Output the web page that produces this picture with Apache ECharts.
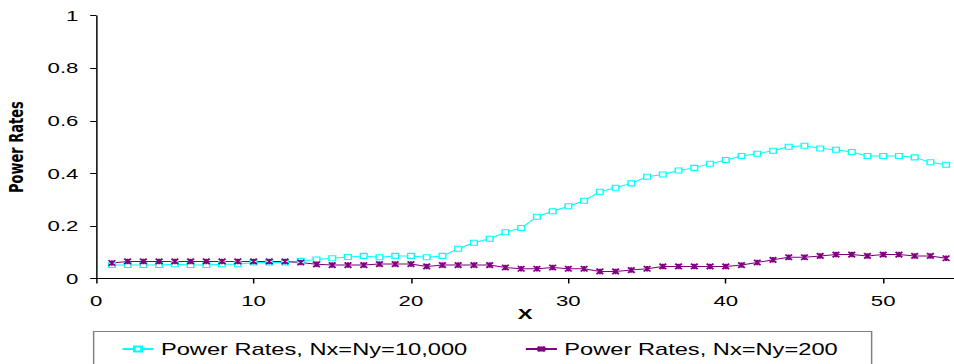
<!DOCTYPE html>
<html>
<head>
<meta charset="utf-8">
<script src="https://cdn.jsdelivr.net/npm/echarts@6/dist/echarts.min.js"></script>
<style>
  html, body { margin: 0; padding: 0; background: #fff; overflow: hidden; }
  /* the reference looks stretched sideways, so draw narrow and stretch */
  #chart { width: 645px; height: 364px; transform: scaleX(1.4791); transform-origin: 0 0; }
</style>
</head>
<body>
<div id="chart"></div>
<script>
var xValues = [1, 2, 3, 4, 5, 6, 7, 8, 9, 10, 11, 12, 13, 14, 15, 16, 17, 18,
  19, 20, 21, 22, 23, 24, 25, 26, 27, 28, 29, 30, 31, 32, 33, 34, 35, 36,
  37, 38, 39, 40, 41, 42, 43, 44, 45, 46, 47, 48, 49, 50, 51, 52, 53, 54];

var rates10000 = [0.051, 0.051, 0.051, 0.051, 0.054, 0.051, 0.051, 0.054, 0.054, 0.061,
  0.061, 0.061, 0.067, 0.072, 0.077, 0.082, 0.086, 0.081, 0.086, 0.086,
  0.081, 0.086, 0.113, 0.136, 0.151, 0.176, 0.192, 0.235, 0.256, 0.275,
  0.296, 0.330, 0.345, 0.362, 0.387, 0.396, 0.411, 0.421, 0.437, 0.451,
  0.466, 0.475, 0.486, 0.501, 0.505, 0.495, 0.490, 0.481, 0.466, 0.466,
  0.466, 0.461, 0.442, 0.433];

var rates200 = [0.059, 0.065, 0.065, 0.065, 0.065, 0.065, 0.065, 0.065, 0.065, 0.065,
  0.065, 0.065, 0.061, 0.054, 0.051, 0.051, 0.051, 0.055, 0.055, 0.055,
  0.046, 0.051, 0.051, 0.051, 0.051, 0.042, 0.037, 0.037, 0.042, 0.037,
  0.037, 0.027, 0.027, 0.032, 0.037, 0.046, 0.046, 0.046, 0.046, 0.046,
  0.051, 0.061, 0.071, 0.081, 0.081, 0.086, 0.091, 0.091, 0.086, 0.091,
  0.091, 0.086, 0.086, 0.077];

var xTicks = [0, 10, 20, 30, 40, 50];
var seriesNames = ["Power Rates, Nx=Ny=10,000", "Power Rates, Nx=Ny=200"];

function pairs(ys) {
  return xValues.map(function (x, i) { return [x, ys[i]]; });
}

var font = "Liberation Sans, Arial, sans-serif";
var star = "path://M0,0 L10,10 M10,0 L0,10 M5,0 L5,10";

var myChart = echarts.init(document.getElementById("chart"), null, { renderer: "svg" });

var option = {
  animation: false,
  backgroundColor: "#fff",
  textStyle: { fontFamily: font, color: "#000" },
  grid: { left: 65, right: 0, top: 15.7, bottom: 85.5, containLabel: false, outerBoundsMode: "none" },
  // legend frame, runs off the bottom like in the reference
  graphic: [{
    type: "rect",
    left: 60.8,
    top: 329,
    shape: { width: 526, height: 60 },
    style: { fill: "none", stroke: "#808080", lineWidth: 1 },
    silent: true
  }],
  legend: {
    left: 81.8,
    top: 341,
    padding: 0,
    itemGap: 38.5,
    itemWidth: 21,
    itemHeight: 6,
    textStyle: { fontFamily: font, fontSize: 16, color: "#000" },
    data: seriesNames
  },
  xAxis: {
    type: "value",
    min: 0,
    max: 54.5,
    interval: 10,
    name: "X",
    nameLocation: "middle",
    nameGap: 28,
    nameMoveOverlap: false,
    nameTextStyle: { fontFamily: font, fontSize: 15, fontWeight: "bold", color: "#000" },
    axisLine: { show: true, lineStyle: { color: "#000", width: 1 } },
    axisTick: { show: true, length: 5, customValues: xTicks, lineStyle: { color: "#000" } },
    axisLabel: { customValues: xTicks, margin: 15, fontSize: 15, color: "#000", fontFamily: font },
    splitLine: { show: false }
  },
  yAxis: {
    type: "value",
    min: 0,
    max: 1,
    interval: 0.2,
    name: "Power Rates",
    nameLocation: "middle",
    nameGap: 47,
    nameMoveOverlap: false,
    nameTextStyle: { fontFamily: "DejaVu Sans", fontSize: 13, fontWeight: "bold", color: "#000" },
    axisLine: { show: true, lineStyle: { color: "#000", width: 1 } },
    axisTick: { show: true, length: 4, lineStyle: { color: "#000" } },
    axisLabel: { margin: 12, fontSize: 15, color: "#000", fontFamily: font },
    splitLine: { show: false }
  },
  series: [
    {
      name: seriesNames[0],
      type: "line",
      data: pairs(rates10000),
      symbol: "rect",
      symbolSize: [4.5, 5],
      showAllSymbol: true,
      lineStyle: { color: "#00FFFF", width: 1 },
      itemStyle: { color: "#fff", borderColor: "#00FFFF", borderWidth: 1 }
    },
    {
      name: seriesNames[1],
      type: "line",
      data: pairs(rates200),
      symbol: star,
      symbolSize: [4.5, 5.5],
      showAllSymbol: true,
      lineStyle: { color: "#800080", width: 1 },
      itemStyle: { color: "transparent", borderColor: "#800080", borderWidth: 1.5 }
    }
  ]
};

myChart.setOption(option);
window.addEventListener("resize", myChart.resize);
</script>
</body>
</html>
